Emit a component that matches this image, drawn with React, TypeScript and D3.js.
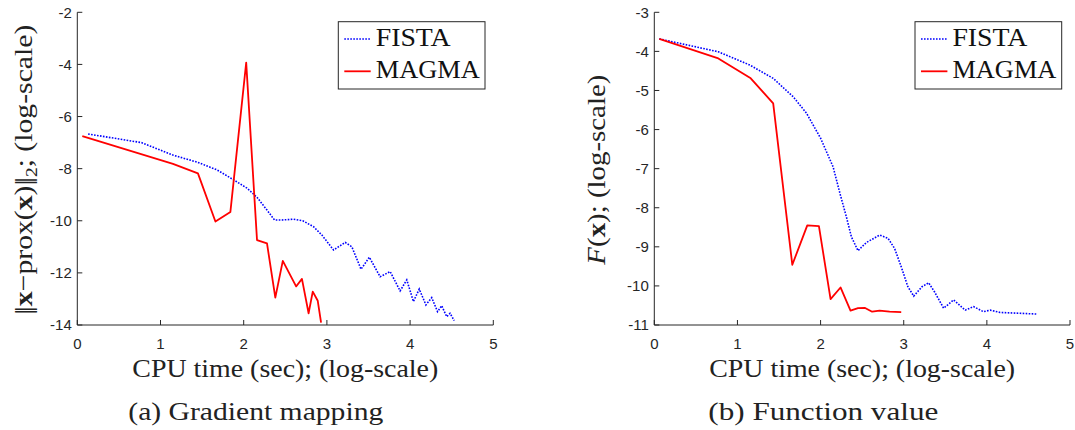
import React from "react";
import * as d3 from "d3";

// CPU time (log-scale) vs value (log-scale)
const fistaGradient: [number, number][] = [
  [0.13, -6.67], [0.77, -7.0], [1.15, -7.48], [1.45, -7.76], [1.68, -8.05], [1.88, -8.43],
  [2.04, -8.75], [2.16, -9.1], [2.28, -9.59], [2.37, -9.97], [2.46, -9.97], [2.6, -9.94],
  [2.71, -10.0], [2.84, -10.23], [2.94, -10.55], [3.08, -11.12], [3.22, -10.83], [3.3, -11.0],
  [3.41, -11.86], [3.51, -11.4], [3.64, -12.15], [3.76, -11.95], [3.88, -12.69], [3.96, -12.27],
  [4.04, -13.1], [4.11, -12.62], [4.19, -13.23], [4.26, -12.95], [4.33, -13.49], [4.38, -13.26],
  [4.44, -13.68], [4.48, -13.55], [4.53, -13.83],
];
const magmaGradient: [number, number][] = [
  [0.06, -6.75], [1.15, -7.82], [1.45, -8.18], [1.66, -10.03], [1.84, -9.66], [2.03, -3.93],
  [2.16, -10.74], [2.28, -10.87], [2.38, -12.95], [2.47, -11.54], [2.63, -12.52], [2.7, -12.23],
  [2.78, -13.55], [2.83, -12.72], [2.89, -13.07], [2.93, -13.91],
];
const fistaFunction: [number, number][] = [
  [0.06, -3.68], [0.77, -4.01], [1.15, -4.35], [1.43, -4.69], [1.67, -5.16], [1.83, -5.58],
  [2.0, -6.22], [2.15, -6.95], [2.24, -7.69], [2.31, -8.23], [2.37, -8.74], [2.45, -9.1],
  [2.55, -8.89], [2.71, -8.7], [2.81, -8.78], [2.89, -9.04], [2.97, -9.51], [3.05, -10.02],
  [3.12, -10.26], [3.22, -10.02], [3.3, -9.92], [3.37, -10.15], [3.48, -10.57], [3.6, -10.36],
  [3.74, -10.62], [3.84, -10.53], [3.96, -10.66], [4.04, -10.62], [4.16, -10.68], [4.4, -10.7],
  [4.6, -10.72],
];
const magmaFunction: [number, number][] = [
  [0.06, -3.68], [0.77, -4.18], [1.16, -4.69], [1.43, -5.33], [1.66, -9.46], [1.84, -8.45],
  [1.98, -8.47], [2.12, -10.34], [2.24, -10.04], [2.36, -10.63], [2.45, -10.57], [2.53, -10.56],
  [2.62, -10.66], [2.71, -10.63], [2.83, -10.66], [2.97, -10.67],
];

const xTicks = [0, 1, 2, 3, 4, 5];
const gradTicks = [-14, -12, -10, -8, -6, -4, -2];
const funcTicks = [-11, -10, -9, -8, -7, -6, -5, -4, -3];
const legendNames = ["FISTA", "MAGMA"];

const axisColor = "#262626";
const serif = "'Liberation Serif', 'Times New Roman', serif";
const sans = "'Liberation Sans', Arial, sans-serif";

type PanelProps = {
  x0: number;
  x1: number;
  yDomain: [number, number];
  yTicks: number[];
  fista: [number, number][];
  magma: [number, number][];
  ylabel: React.ReactNode;
  ylabelX: number;
  ylabelLen: number;
  caption: string;
  captionX: number;
  captionLen: number;
};

const top = 12.3;
const bottom = 325;

function Panel(p: PanelProps) {
  const x = d3.scaleLinear().domain([0, 5]).range([p.x0, p.x1]);
  const y = d3.scaleLinear().domain(p.yDomain).range([bottom, top]);
  const line = d3
    .line<[number, number]>()
    .x((d) => x(d[0]))
    .y((d) => y(d[1]));
  const mid = (p.x0 + p.x1) / 2;
  // legend box sits in the top right corner
  const lx = p.x1 - 8.3 - 146.7;
  return (
    <g>
      <path d={line(p.fista) || ""} fill="none" stroke="#0000ff" strokeWidth={1.6} strokeDasharray="1.6 1.4" />
      <path d={line(p.magma) || ""} fill="none" stroke="#ff0000" strokeWidth={1.8} strokeLinejoin="round" />

      {/* axes */}
      <line x1={p.x0} x2={p.x1} y1={bottom} y2={bottom} stroke={axisColor} />
      <line x1={p.x0} x2={p.x0} y1={top} y2={bottom} stroke={axisColor} />
      {xTicks.map((t) => (
        <g key={"x" + t}>
          <line x1={x(t)} x2={x(t)} y1={bottom} y2={bottom - 5} stroke={axisColor} />
          <text x={x(t)} y={348.5} textAnchor="middle" fontSize={15} fontFamily={sans} fill={axisColor}>
            {t}
          </text>
        </g>
      ))}
      {p.yTicks.map((t) => (
        <g key={"y" + t}>
          <line x1={p.x0} x2={p.x0 + 5} y1={y(t)} y2={y(t)} stroke={axisColor} />
          <text x={p.x0 - 5.5} y={y(t) + 5.3} textAnchor="end" fontSize={15} fontFamily={sans} fill={axisColor}>
            {t}
          </text>
        </g>
      ))}

      <text x={mid} y={376.5} textAnchor="middle" fontSize={26} fontFamily={serif} fill="#222"
        textLength={306} lengthAdjust="spacingAndGlyphs">
        CPU time (sec); (log-scale)
      </text>
      <text x={p.captionX} y={419.5} textAnchor="middle" fontSize={26} fontFamily={serif} fill="#222"
        textLength={p.captionLen} lengthAdjust="spacingAndGlyphs">
        {p.caption}
      </text>
      <text transform={`translate(${p.ylabelX},${(top + bottom) / 2 + 1}) rotate(-90)`} textAnchor="middle"
        fontSize={26} fontFamily={serif} fill="#222" textLength={p.ylabelLen} lengthAdjust="spacingAndGlyphs">
        {p.ylabel}
      </text>

      {/* legend */}
      <rect x={lx} y={21.7} width={146.7} height={67.3} fill="#fff" stroke={axisColor} />
      {legendNames.map((name, i) => {
        const ly = 39 + i * 32.3;
        return (
          <g key={name}>
            <line x1={lx + 6} x2={lx + 32.4} y1={ly} y2={ly}
              stroke={i === 0 ? "#0000ff" : "#ff0000"} strokeWidth={i === 0 ? 1.6 : 1.8}
              strokeDasharray={i === 0 ? "1.6 1.4" : undefined} />
            <text x={lx + 37.4} y={ly + 6.8} fontSize={26} fontFamily={serif} fill="#111"
              textLength={i === 0 ? 75 : 104} lengthAdjust="spacingAndGlyphs">
              {name}
            </text>
          </g>
        );
      })}
    </g>
  );
}

export default function App() {
  return (
    <svg width={1075} height={430} style={{ position: "absolute", left: 0, top: 0, background: "#fff" }}>
      <Panel
        x0={77.3}
        x1={493.3}
        yDomain={[-14, -2]}
        yTicks={gradTicks}
        fista={fistaGradient}
        magma={magmaGradient}
        ylabelX={32}
        ylabelLen={290}
        ylabel={
          <>
            <tspan letterSpacing={-3}>||</tspan>
            <tspan dx={3} fontWeight="bold">x</tspan>
            <tspan>−prox(</tspan>
            <tspan fontWeight="bold">x</tspan>
            <tspan>)</tspan>
            <tspan letterSpacing={-3}>||</tspan>
            <tspan dx={3} fontSize={17} dy={5}>2</tspan>
            <tspan dy={-5}>; (log-scale)</tspan>
          </>
        }
        caption="(a) Gradient mapping"
        captionX={255.8}
        captionLen={255}
      />
      <Panel
        x0={654.3}
        x1={1070}
        yDomain={[-11, -3]}
        yTicks={funcTicks}
        fista={fistaFunction}
        magma={magmaFunction}
        ylabelX={605}
        ylabelLen={190}
        ylabel={
          <>
            <tspan fontStyle="italic">F</tspan>
            <tspan>(</tspan>
            <tspan fontWeight="bold">x</tspan>
            <tspan>); (log-scale)</tspan>
          </>
        }
        caption="(b) Function value"
        captionX={823.3}
        captionLen={230}
      />
    </svg>
  );
}
